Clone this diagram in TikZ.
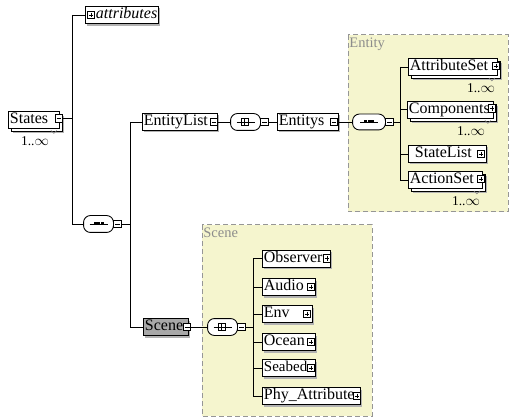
\documentclass[tikz,border=0pt]{standalone}
\usepackage{fontspec}
\setmainfont{Liberation Serif}
\usetikzlibrary{shadows}
\definecolor{grpfill}{RGB}{245,245,206}
\definecolor{grpline}{RGB}{150,150,150}
\definecolor{grptext}{RGB}{140,140,140}
\definecolor{scenefill}{RGB}{168,168,168}
\newcommand\compshape[1]{%
  \fill[gray!60, shift={(2pt,-2pt)}, rounded corners=2.5pt] ([xshift=0pt,yshift=-4pt]#1.north west) -- ([xshift=4pt]#1.north west) -- ([xshift=-4pt]#1.north east) -- ([yshift=-4pt]#1.north east) -- ([yshift=4pt]#1.south east) -- ([xshift=-4pt]#1.south east) -- ([xshift=4pt]#1.south west) -- ([yshift=4pt]#1.south west) -- cycle;
  \draw[fill=white, rounded corners=2.5pt] ([yshift=-4pt]#1.north west) -- ([xshift=4pt]#1.north west) -- ([xshift=-4pt]#1.north east) -- ([yshift=-4pt]#1.north east) -- ([yshift=4pt]#1.south east) -- ([xshift=-4pt]#1.south east) -- ([xshift=4pt]#1.south west) -- ([yshift=4pt]#1.south west) -- cycle;}
\newcommand\seqsym[1]{%
  \draw ([xshift=-9pt]#1.center) -- ([xshift=9pt]#1.center);
  \foreach \d in {-3.5,0,3.5}{\fill ([xshift=\d pt]#1.center) +(-1.5pt,-1.5pt) rectangle +(1.5pt,1.5pt);}}
\newcommand\choicesym[1]{%
  \draw (#1.center) +(-9pt,0) -- +(-4pt,0);
  \draw (#1.center) +(-2pt,3.5pt) -- +(-4pt,3.5pt) -- +(-4pt,-3.5pt) -- +(-2pt,-3.5pt);
  \draw (#1.center) +(-4pt,0) -- +(2pt,0);
  \draw (#1.center) +(-1.5pt,-3.5pt) rectangle +(2.5pt,3.5pt);
  \draw (#1.center) +(2.5pt,0) -- +(9pt,0);}
\newcommand\notch[1]{\draw[gray, line width=0.5pt] ([xshift=-9pt,yshift=-2pt]#1.south east) -- ([xshift=-6pt,yshift=-5pt]#1.south east) -- ([xshift=-3pt,yshift=-2pt]#1.south east);}
\begin{document}
\begin{tikzpicture}[x=1pt,y=-1pt, line width=0.85pt,
  box/.style={draw, fill=white, rectangle, inner sep=0pt, minimum height=17pt, anchor=west},
  single/.style={box, drop shadow={shadow xshift=2pt, shadow yshift=-2pt, fill=gray!60, opacity=1}},
  multi/.style={box, general shadow={shadow xshift=5pt, shadow yshift=-5pt, fill=gray!60}, general shadow={shadow xshift=3pt, shadow yshift=-3pt, fill=white, draw=black}},
  txt/.style={anchor=west, inner xsep=1.5pt, inner ysep=0pt, font=\fontsize{16}{18}\selectfont, text height=11pt, text depth=3.5pt},
  mult/.style={inner sep=0pt, font=\fontsize{13.5}{15}\selectfont},
  comp/.style={rectangle, inner sep=0pt, minimum width=29pt, minimum height=16pt},
  sgn/.style={draw, fill=white, minimum size=7.5pt, inner sep=0pt, line width=0.6pt},
  minusbox/.style={sgn, path picture={\draw ([xshift=1.3pt]path picture bounding box.west) -- ([xshift=-1.3pt]path picture bounding box.east);}},
  plusbox/.style={sgn, path picture={\draw ([xshift=1.3pt]path picture bounding box.west) -- ([xshift=-1.3pt]path picture bounding box.east); \draw ([yshift=-1.3pt]path picture bounding box.north) -- ([yshift=1.3pt]path picture bounding box.south);}},
  group/.style={draw=grpline, fill=grpfill, dash pattern=on 5pt off 3pt, line width=1pt},
  grplbl/.style={anchor=north west, inner sep=1pt, text=grptext, font=\fontsize{14.5}{16}\selectfont}
]
\useasboundingbox (0,0) rectangle (513,419);
\fill[white] (0,0) rectangle (513,419);

% groups
\draw[group] (348,35) rectangle (508,212);
\node[grplbl] (entityLbl) at (348,36) {Entity};
\draw[group] (202,225) rectangle (372,416);
\node[grplbl] (sceneLbl) at (202,226) {Scene};

% trunk coordinates
\coordinate (v1) at (72,0);
\coordinate (v2) at (130,0);
\coordinate (v3) at (400,0);
\coordinate (v4) at (253,0);

% States
\node[multi, minimum width=51pt] (states) at (8,119.5) {};
\node[txt] (statesT) at (states.west) {States};
\node[minusbox] (statesm) at (59,118.5) {};
\node[mult] (statesML) at (35,141) {1..$\infty$};
\notch{states}

% attributes
\node[single, minimum width=73pt, minimum height=17.5pt] (attr) at (85,15) {};
\node[plusbox] (attrp) at (91,15) {};
\node[txt, font=\fontsize{16}{18}\selectfont\itshape] (attrT) at (94,15) {attributes};

% sequence A
\node[comp] (seqA) at (98.5,224) {};
\compshape{seqA}
\seqsym{seqA}
\node[minusbox, anchor=west] (seqAm) at (seqA.east) {};

% EntityList row
\node[single, minimum width=75pt] (elist) at (142,122) {};
\node[txt] (elistT) at (elist.west) {EntityList};
\node[minusbox] (elistm) at (214,122) {};
\node[comp] (chA) at (245.5,122) {};
\compshape{chA}
\choicesym{chA}
\node[minusbox, anchor=west] (chAm) at (chA.east) {};
\node[single, minimum width=61pt] (ents) at (277,122) {};
\node[txt] (entsT) at (ents.west) {Entitys};
\node[minusbox] (entsm) at (334,122) {};
\node[comp, minimum width=32pt, minimum height=15pt] (seqB) at (369,122) {};
\compshape{seqB}
\seqsym{seqB}
\node[minusbox, anchor=west] (seqBm) at (seqB.east) {};

% Entity children
\node[multi, minimum width=89pt] (aset) at (408,67) {};
\node[txt] (asetT) at (aset.west) {AttributeSet};
\node[plusbox] (asetp) at (496,66) {};
\node[mult] (asetML) at (481,88) {1..$\infty$};
\notch{aset}

\node[multi, minimum width=86pt] (comps) at (407,109.5) {};
\node[txt] (compsT) at (comps.west) {Components};
\node[plusbox] (compsp) at (492,108.5) {};
\node[mult] (compsML) at (471,131) {1..$\infty$};
\notch{comps}

\node[single, minimum width=78pt] (slist) at (408,154) {};
\node[txt] (slistT) at ([xshift=5pt]slist.west) {StateList};
\node[plusbox] (slistp) at (481,154) {};

\node[multi, minimum width=74pt] (acts) at (408,180) {};
\node[txt] (actsT) at (acts.west) {ActionSet};
\node[plusbox] (actsp) at (481,179) {};
\node[mult] (actsML) at (466,201) {1..$\infty$};
\notch{acts}

% Scene row
\node[box, fill=scenefill, minimum width=45pt, drop shadow={shadow xshift=2pt, shadow yshift=-2pt, fill=gray!60, opacity=1}] (scene) at (143,327) {};
\node[txt] (sceneT) at (scene.west) {Scene};
\node[minusbox] (scenem) at (187,327) {};
\node[comp] (chB) at (222.5,327) {};
\compshape{chB}
\choicesym{chB}
\node[minusbox, anchor=west] (chBm) at (chB.east) {};

% Scene children
\node[single, minimum width=68pt] (obs) at (262,258.5) {};
\node[txt] (obsT) at (obs.west) {Observer};
\node[plusbox] (obsp) at (327,258.5) {};
\node[single, minimum width=53pt] (aud) at (262,287) {};
\node[txt] (audT) at (aud.west) {Audio};
\node[plusbox] (audp) at (311,287) {};
\node[single, minimum width=50pt] (env) at (262,314) {};
\node[txt] (envT) at (env.west) {Env};
\node[plusbox] (envp) at (307,314) {};
\node[single, minimum width=53pt] (ocn) at (262,342) {};
\node[txt] (ocnT) at (ocn.west) {Ocean};
\node[plusbox] (ocnp) at (311,342) {};
\node[single, minimum width=53pt] (sbd) at (262,368) {};
\node[txt, font=\fontsize{15}{18}\selectfont] (sbdT) at (sbd.west) {Seabed};
\node[plusbox] (sbdp) at (311,368) {};
\node[single, minimum width=98pt] (phy) at (262,396) {};
\node[txt] (phyT) at (phy.west) {Phy\_Attribute};
\node[plusbox] (phyp) at (357,396) {};

% connectors
\draw (statesm.east) -- (statesm.east -| v1);
\draw (v1 |- attr.west) -- (v1 |- seqA.west);
\draw (v1 |- attr.west) -- (attr.west);
\draw (v1 |- seqA.west) -- (seqA.west);
\draw (seqAm.east) -- (v2 |- seqAm.east);
\draw (v2 |- elist.west) -- (v2 |- scene.west);
\draw (v2 |- elist.west) -- (elist.west);
\draw (v2 |- scene.west) -- (scene.west);
\draw (elistm.east -| elist.east) -- (chA.west);
\draw (chAm.east) -- (ents.west);
\draw (ents.east) -- (seqB.west);
\draw (seqBm.east) -- (v3 |- seqBm.east);
\draw (v3 |- aset.west) -- (v3 |- acts.west);
\foreach \n in {aset,comps,slist,acts}{\draw (v3 |- \n.west) -- (\n.west);}
\draw (scene.east) -- (chB.west);
\draw (chBm.east) -- (v4 |- chBm.east);
\draw (v4 |- obs.west) -- (v4 |- phy.west);
\foreach \n in {obs,aud,env,ocn,sbd,phy}{\draw (v4 |- \n.west) -- (\n.west);}
\end{tikzpicture}
\end{document}
